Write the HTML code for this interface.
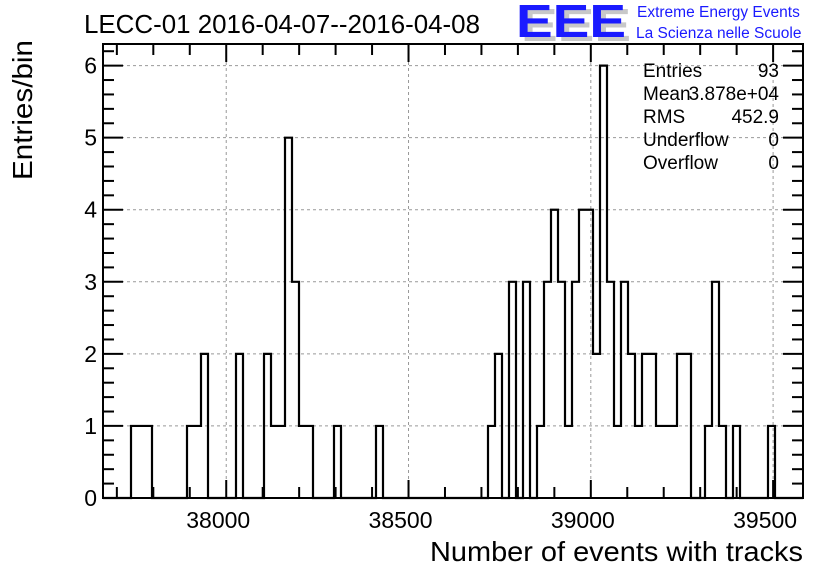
<!DOCTYPE html>
<html><head><meta charset="utf-8"><style>
body{margin:0;background:#fff;}
svg{display:block;font-family:"Liberation Sans",Arial,sans-serif;}
</style></head><body>
<svg id="chart" width="836" height="572" viewBox="0 0 836 572">
<text x="84" y="33" font-size="25.5" textLength="396" lengthAdjust="spacingAndGlyphs">LECC-01 2016-04-07--2016-04-08</text>
<g>
<text x="521" y="41" font-size="46" font-weight="bold" fill="#c8c8c8" textLength="110" lengthAdjust="spacingAndGlyphs">EEE</text>
<text x="516" y="37" font-size="46" font-weight="bold" fill="#1a1aff" textLength="110" lengthAdjust="spacingAndGlyphs">EEE</text>
<text x="637" y="17" font-size="15.5" fill="#1a1aff">Extreme Energy Events</text>
<text x="636" y="38" font-size="15.5" fill="#1a1aff">La Scienza nelle Scuole</text>
</g>
<g id="grid"></g>
<g id="bars"></g>
<g id="axes"></g>
<g font-size="19">
<text x="643" y="77">Entries</text><text x="779" y="77" text-anchor="end">93</text>
<text x="643" y="100">Mean</text><text x="779" y="100" text-anchor="end">3.878e+04</text>
<text x="643" y="123">RMS</text><text x="779" y="123" text-anchor="end">452.9</text>
<text x="643" y="146">Underflow</text><text x="779" y="146" text-anchor="end">0</text>
<text x="643" y="169">Overflow</text><text x="779" y="169" text-anchor="end">0</text>
</g>
<text x="803" y="561" font-size="28" text-anchor="end" textLength="373" lengthAdjust="spacingAndGlyphs">Number of events with tracks</text>
<text transform="translate(32,180) rotate(-90)" font-size="28" textLength="140" lengthAdjust="spacingAndGlyphs">Entries/bin</text>
</svg>
<script>
const xMin = 37662, xMax = 39582, nBins = 100;
const counts = [0,0,0,0,1,1,1,0,0,0,0,0,1,1,2,0,0,0,0,2,0,0,0,2,1,1,5,3,1,1,0,0,0,1,0,0,0,0,0,1,
0,0,0,0,0,0,0,0,0,0,0,0,0,0,0,1,2,0,3,0,3,0,1,3,4,3,1,3,4,4,2,6,3,1,3,2,1,2,2,1,
1,1,2,2,0,0,1,3,1,0,1,0,0,0,0,1,0,0,0,0];
const xTicks = [38000, 38500, 39000, 39500];
const yTicks = [0,1,2,3,4,5,6];
const yMax = 6.3;
const L=103,R=803,T=44,B=498;
const sx=v=>L+(v-xMin)/(xMax-xMin)*(R-L);
const sy=v=>B-v/yMax*(B-T);
const NS='http://www.w3.org/2000/svg';
function mk(tag,attrs,parent){const e=document.createElementNS(NS,tag);for(const k in attrs)e.setAttribute(k,attrs[k]);parent.appendChild(e);return e;}
const grid=document.getElementById('grid'),bars=document.getElementById('bars'),axes=document.getElementById('axes');
xTicks.forEach(t=>{const l=mk('line',{x1:sx(t),x2:sx(t),y1:T,y2:B,stroke:'#999','stroke-dasharray':'3,3','stroke-width':1},grid);

});
yTicks.forEach(t=>{if(t===0)return;const l=mk('line',{x1:L,x2:R,y1:sy(t),y2:sy(t),stroke:'#999','stroke-dasharray':'3,3','stroke-width':1},grid);

});
const bw=(xMax-xMin)/nBins;
let d='M'+sx(xMin)+','+sy(0);
counts.forEach((c,i)=>{const x0=sx(xMin+i*bw),x1=sx(xMin+(i+1)*bw);d+=' L'+x0+','+sy(c)+' L'+x1+','+sy(c);});
d+=' L'+sx(xMax)+','+sy(0);
const p=mk('path',{d:d,fill:'none',stroke:'#000','stroke-width':2.2},bars);


const f=mk('rect',{x:L,y:T,width:R-L,height:B-T,fill:'none',stroke:'#000','stroke-width':2},axes);


for(let v=Math.ceil(xMin/100)*100;v<=xMax;v+=100){const major=v%500===0;const len=major?18:11;
mk('line',{x1:sx(v),x2:sx(v),y1:B,y2:B-len,stroke:'#000','stroke-width':2},axes);
mk('line',{x1:sx(v),x2:sx(v),y1:T,y2:T+len,stroke:'#000','stroke-width':2},axes);}
for(let v=0;v<=yMax+1e-9;v+=0.2){const major=Math.abs(v-Math.round(v))<1e-6;const len=major?20:11;
mk('line',{x1:L,x2:L+len,y1:sy(v),y2:sy(v),stroke:'#000','stroke-width':2},axes);
mk('line',{x1:R,x2:R-len,y1:sy(v),y2:sy(v),stroke:'#000','stroke-width':2},axes);}
xTicks.forEach(t=>{const e=mk('text',{x:sx(t)-8,y:528,'font-size':23,'text-anchor':'middle'},axes);e.textContent=t;

});
yTicks.forEach(t=>{const e=mk('text',{x:97,y:sy(t)+8,'font-size':23,'text-anchor':'end'},axes);e.textContent=t;

});
</script>
</body></html>
